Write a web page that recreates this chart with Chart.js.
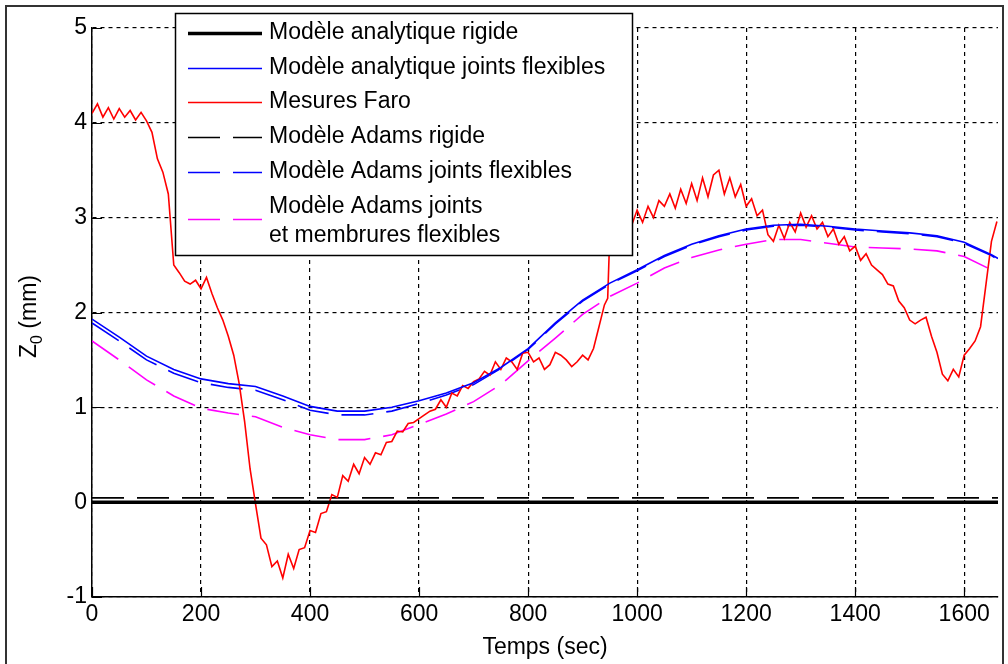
<!DOCTYPE html>
<html><head><meta charset="utf-8">
<script src="https://cdn.jsdelivr.net/npm/chart.js@4.4.1/dist/chart.umd.min.js"></script>
<style>html,body{margin:0;padding:0;background:#fff;overflow:hidden}canvas{display:block}</style>
</head><body>
<canvas id="c" width="1008" height="664"></canvas>
<script>
// ---- data ----
const xTicks = [0, 200, 400, 600, 800, 1000, 1200, 1400, 1600];
const yTicks = [-1, 0, 1, 2, 3, 4, 5];
const seriesNames = [
  'Modèle analytique rigide',
  'Modèle analytique joints flexibles',
  'Mesures Faro',
  'Modèle Adams rigide',
  'Modèle Adams joints flexibles',
  'Modèle Adams joints\net membrures flexibles'
];
const rigidTime = [0, 1662];
const analyticRigid = [0, 0];
const adamsRigid = [0.045, 0.045];
const modelTime = [0,50,100,150,200,250,300,350,400,450,500,550,600,650,700,750,800,850,900,950,
  1000,1050,1100,1150,1200,1250,1300,1350,1400,1450,1500,1550,1600,1650,1662];
const analyticFlex = [1.93,1.74,1.54,1.40,1.30,1.25,1.22,1.12,1.01,0.96,0.96,1.00,1.07,1.15,1.26,1.42,1.62,1.89,2.13,2.31,
  2.45,2.60,2.72,2.81,2.88,2.92,2.93,2.91,2.88,2.86,2.84,2.81,2.74,2.61,2.57];
const adamsFlex = [1.89,1.70,1.50,1.36,1.26,1.21,1.18,1.08,0.97,0.92,0.92,0.96,1.04,1.13,1.24,1.41,1.61,1.88,2.12,2.30,
  2.44,2.59,2.71,2.80,2.87,2.91,2.92,2.90,2.87,2.85,2.83,2.80,2.73,2.60,2.56];
const adamsFlexMemb = [1.70,1.50,1.29,1.12,0.99,0.94,0.90,0.79,0.71,0.66,0.66,0.71,0.82,0.93,1.06,1.24,1.49,1.73,1.98,2.17,
  2.31,2.47,2.58,2.66,2.72,2.77,2.77,2.73,2.69,2.68,2.67,2.65,2.59,2.45,2.41];
const faroTime = [0,10,20,30,40,50,60,70,80,90,
  100,110,120,130,140,150,160,170,180,190,
  200,210,220,230,240,250,260,270,280,290,
  300,310,320,330,340,350,360,370,380,390,
  400,410,420,430,440,450,460,470,480,490,
  500,510,520,530,540,550,560,570,580,590,
  600,610,620,630,640,650,660,670,680,690,
  700,710,720,730,740,750,760,770,780,790,
  800,810,820,830,840,850,860,870,880,890,
  900,910,920,930,940,946,
  950,960,970,980,990,1000,1010,1020,1030,1040,
  1050,1060,1070,1080,1090,1100,1110,1120,1130,1140,
  1150,1160,1170,1180,1190,1200,1210,1220,1230,1240,
  1250,1260,1270,1280,1290,1300,1310,1320,1330,1340,
  1350,1360,1370,1380,1390,1400,1410,1420,1430,1440,
  1450,1460,1470,1480,1490,1500,1510,1520,1530,1540,
  1550,1560,1570,1580,1590,1600,1610,1620,1630,1640,
  1650,1660];
const faroZ = [4.10,4.20,4.06,4.16,4.04,4.15,4.06,4.13,4.03,4.11,
  4.02,3.90,3.62,3.48,3.25,2.50,2.42,2.33,2.30,2.34,
  2.25,2.37,2.20,2.05,1.92,1.75,1.55,1.25,0.85,0.35,
  -0.02,-0.38,-0.45,-0.68,-0.62,-0.80,-0.55,-0.70,-0.50,-0.48,
  -0.30,-0.32,-0.12,-0.10,0.08,0.05,0.28,0.22,0.40,0.30,
  0.47,0.40,0.52,0.50,0.63,0.64,0.75,0.74,0.83,0.84,
  0.88,0.92,0.96,0.98,1.08,1.00,1.15,1.12,1.23,1.20,
  1.27,1.30,1.38,1.34,1.48,1.40,1.52,1.48,1.40,1.57,
  1.58,1.48,1.52,1.40,1.45,1.58,1.55,1.50,1.43,1.48,
  1.55,1.50,1.62,1.85,2.08,2.15,
  2.85,2.95,2.86,3.02,2.92,3.08,2.95,3.12,3.00,3.18,
  3.12,3.25,3.10,3.30,3.15,3.36,3.18,3.42,3.22,3.45,
  3.50,3.25,3.42,3.22,3.35,3.12,3.20,3.02,3.08,2.82,
  2.75,2.92,2.78,2.95,2.85,3.05,2.90,3.02,2.88,2.95,
  2.80,2.88,2.72,2.80,2.65,2.70,2.55,2.62,2.50,2.45,
  2.40,2.30,2.28,2.12,2.05,1.92,1.88,1.92,1.95,1.75,
  1.58,1.35,1.28,1.40,1.32,1.55,1.62,1.70,1.85,2.30,
  2.75,2.96];

// ---- chart ----
const FONT = "'Liberation Sans', Arial, sans-serif";
Chart.defaults.font.family = FONT;
Chart.defaults.color = '#000';
const pts = (xs, ys) => xs.map((x, i) => ({x, y: ys[i]}));

const datasets = [
  {label: seriesNames[0], data: pts(rigidTime, analyticRigid), borderColor: '#000', borderWidth: 3.5},
  {label: seriesNames[1], data: pts(modelTime, analyticFlex), borderColor: '#0000ff', borderWidth: 1.6},
  {label: seriesNames[2], data: pts(faroTime, faroZ), borderColor: '#ff0000', borderWidth: 1.6},
  {label: seriesNames[3], data: pts(rigidTime, adamsRigid), borderColor: '#000', borderWidth: 1.6, borderDash: [32, 13]},
  {label: seriesNames[4], data: pts(modelTime, adamsFlex), borderColor: '#0000ff', borderWidth: 1.6, borderDash: [32, 13]},
  {label: seriesNames[5], data: pts(modelTime, adamsFlexMemb), borderColor: '#ff00ff', borderWidth: 1.6, borderDash: [32, 13]}
].map(d => Object.assign({pointRadius: 0, tension: 0, fill: false}, d));

const decorPlugin = {
  id: 'decor',
  afterDraw(chart) {
    const ctx = chart.ctx;
    const a = chart.chartArea;
    const xs = chart.scales.x, ys = chart.scales.y;
    ctx.save();
    // inward tick marks
    ctx.strokeStyle = '#000'; ctx.lineWidth = 1.2; ctx.setLineDash([]);
    ctx.beginPath();
    xTicks.forEach(v => { const px = Math.round(xs.getPixelForValue(v)) + 0.5; ctx.moveTo(px, a.bottom); ctx.lineTo(px, a.bottom - 10); });
    yTicks.forEach(v => { const py = Math.round(ys.getPixelForValue(v)) + 0.5; ctx.moveTo(a.left, py); ctx.lineTo(a.left + 10, py); });
    ctx.stroke();

    // y axis title with subscript
    ctx.fillStyle = '#000';
    ctx.translate(36, 358);
    ctx.rotate(-Math.PI / 2);
    ctx.textBaseline = 'alphabetic';
    ctx.textAlign = 'left';
    ctx.font = '23px ' + FONT;
    ctx.fillText('Z', 0, 0);
    const wz = ctx.measureText('Z').width;
    ctx.font = '16px ' + FONT;
    ctx.fillText('0', wz, 6);
    const w0 = ctx.measureText('0').width;
    ctx.font = '23px ' + FONT;
    ctx.fillText(' (mm)', wz + w0, 0);
    ctx.setTransform(1, 0, 0, 1, 0, 0);

    // legend
    const L = 175, T = 13, W = 457, H = 242;
    ctx.fillStyle = '#fff';
    ctx.fillRect(L, T, W, H);
    ctx.strokeStyle = '#000'; ctx.lineWidth = 1.5;
    ctx.strokeRect(L + 0.5, T + 0.5, W, H);
    const rowY = [33, 68, 102, 137, 172, 219];
    ctx.font = '23px ' + FONT;
    ctx.textBaseline = 'middle';
    ctx.textAlign = 'left';
    chart.data.datasets.forEach((ds, i) => {
      const y = rowY[i];
      ctx.save();
      ctx.strokeStyle = ds.borderColor;
      ctx.lineWidth = ds.borderWidth;
      ctx.setLineDash(ds.borderDash || []);
      ctx.beginPath();
      ctx.moveTo(188, y + 0.5); ctx.lineTo(262, y + 0.5);
      ctx.stroke();
      ctx.restore();
      ctx.fillStyle = '#000';
      const lines = ds.label.split('\n');
      if (lines.length === 1) {
        ctx.fillText(lines[0], 269, y);
      } else {
        ctx.fillText(lines[0], 269, y - 12);
        ctx.fillText(lines[1], 269, y + 17);
      }
    });

    // outer frame
    ctx.strokeStyle = '#333'; ctx.lineWidth = 2;
    ctx.strokeRect(6, 6, 997, 700);
    ctx.restore();
  }
};

new Chart(document.getElementById('c'), {
  type: 'line',
  data: {datasets},
  options: {
    responsive: false,
    animation: false,
    devicePixelRatio: 1,
    layout: {padding: {left: 0, right: 10, top: 28, bottom: 0}},
    plugins: {legend: {display: false}, tooltip: {enabled: false}},
    scales: {
      x: {
        type: 'linear', min: 0, max: 1662,
        afterBuildTicks: s => { s.ticks = xTicks.map(v => ({value: v})); },
        afterFit: s => { s.height = 67; },
        ticks: {font: {size: 23}, color: '#000', padding: 4, maxRotation: 0, autoSkip: false, callback: v => String(v)},
        grid: {color: '#000', lineWidth: 1.2, drawTicks: false},
        border: {display: true, color: '#000', width: 1.5, dash: [4, 4]},
        title: {display: true, text: 'Temps (sec)', font: {size: 23}, color: '#000', padding: {top: 0, bottom: 3}}
      },
      y: {
        type: 'linear', min: -1, max: 5,
        afterBuildTicks: s => { s.ticks = yTicks.map(v => ({value: v})); },
        afterFit: s => { s.width = 92; },
        ticks: {font: {size: 23}, color: '#000', padding: 5, autoSkip: false, callback: v => String(v)},
        grid: {color: '#000', lineWidth: 1.2, drawTicks: false},
        border: {display: true, color: '#000', width: 1.5, dash: [4, 4]}
      }
    }
  },
  plugins: [decorPlugin]
});
</script>
</body></html>
